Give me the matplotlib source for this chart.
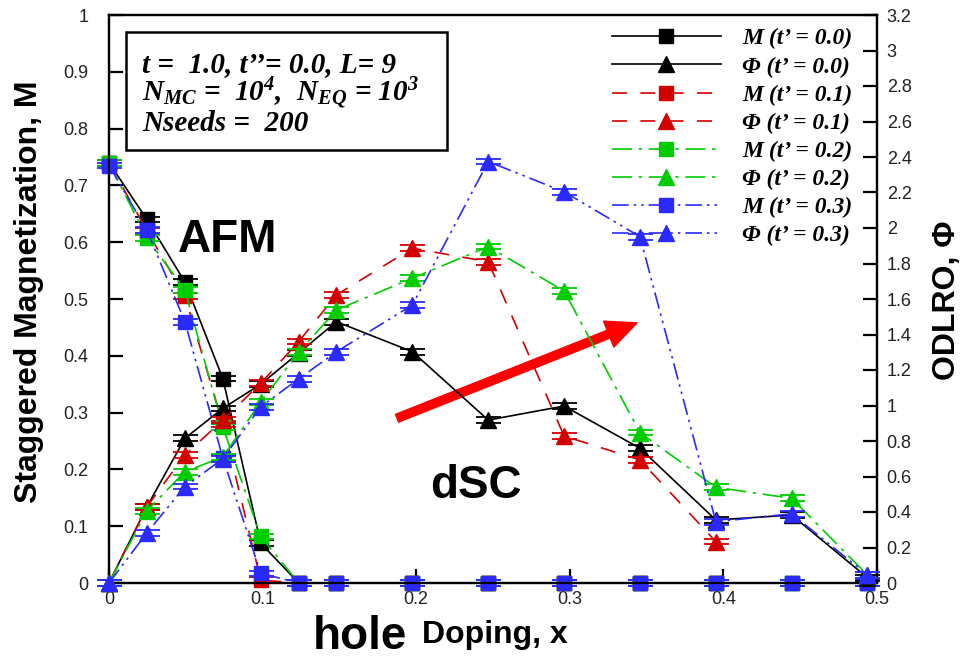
import matplotlib
matplotlib.use("Agg")
import matplotlib.pyplot as plt
from matplotlib.patches import Rectangle

plt.rcParams['mathtext.fontset'] = 'custom'
plt.rcParams['mathtext.rm'] = 'Liberation Serif:italic:bold'
plt.rcParams['mathtext.it'] = 'Liberation Serif:italic:bold'
plt.rcParams['mathtext.bf'] = 'Liberation Serif:italic:bold'

# ---------------- data ----------------
doping = [0.0, 0.0247, 0.0494, 0.0741, 0.0988, 0.1235, 0.1481, 0.1975,
          0.2469, 0.2963, 0.3457, 0.3951, 0.4444, 0.4938]
doping_red = doping[:12]

M_t00 = [0.74, 0.64, 0.53, 0.36, 0.07, 0, 0, 0, 0, 0, 0, 0, 0, 0]
M_t01 = [0.74, 0.62, 0.505, 0.28, 0.005, 0, 0, 0, 0, 0, 0, 0]
M_t02 = [0.74, 0.607, 0.516, 0.275, 0.082, 0, 0, 0, 0, 0, 0, 0, 0, 0]
M_t03 = [0.735, 0.621, 0.46, 0.22, 0.017, 0, 0, 0, 0, 0, 0, 0, 0, 0]

PHI_t00 = [0, 0.43, 0.815, 0.984, 1.12, 1.296, 1.472, 1.303, 0.918, 0.997,
           0.759, 0.355, 0.383, 0.03]
PHI_t01 = [0, 0.43, 0.721, 0.918, 1.125, 1.36, 1.623, 1.886, 1.81, 0.828,
           0.693, 0.233]
PHI_t02 = [0, 0.407, 0.627, 0.71, 1.02, 1.30, 1.538, 1.717, 1.895, 1.645,
           0.847, 0.539, 0.477, 0.045]
PHI_t03 = [0, 0.283, 0.543, 0.70, 0.993, 1.15, 1.303, 1.566, 2.374, 2.204,
           1.951, 0.345, 0.39, 0.045]

tprime_labels = ['0.0', '0.1', '0.2', '0.3']
x_ticks = [0, 0.1, 0.2, 0.3, 0.4, 0.5]
m_ticks = [0, 0.1, 0.2, 0.3, 0.4, 0.5, 0.6, 0.7, 0.8, 0.9, 1.0]
phi_ticks = [0, 0.2, 0.4, 0.6, 0.8, 1.0, 1.2, 1.4, 1.6, 1.8, 2.0, 2.2, 2.4,
             2.6, 2.8, 3.0, 3.2]

# ---------------- styles ----------------
colors = ['black', '#d40000', '#00cc00', '#2a2aff']
styles = ['-', (0, (9, 8)), (0, (12, 4, 2, 4)), (0, (10, 3, 1.5, 3, 1.5, 3))]

W, H = 963, 660
fig = plt.figure(figsize=(W / 100, H / 100), dpi=100)
L, R, B, T = 109, 877, 583, 15
ax = fig.add_axes([L / W, 1 - B / H, (R - L) / W, (B - T) / H])
ax2 = ax.twinx()

ax.set_xlim(0, 0.5)
ax.set_ylim(0, 1)
ax2.set_ylim(0, 3.2)

series = [
    (doping, M_t00, doping, PHI_t00),
    (doping_red, M_t01, doping_red, PHI_t01),
    (doping, M_t02, doping, PHI_t02),
    (doping, M_t03, doping, PHI_t03),
]

handles = []
for i, (xm, m, xp, p) in enumerate(series):
    c = colors[i]
    ls = styles[i]
    z = 3 + i
    ax.errorbar(xm, m, yerr=0.005, fmt='none', ecolor=c, elinewidth=1.0,
                capsize=9, capthick=1.3, zorder=z, clip_on=False)
    lm, = ax.plot(xm, m, color=c, linestyle=ls, linewidth=1.2, marker='s',
                  markersize=10, markerfacecolor=c, markeredgecolor=c,
                  zorder=z, clip_on=False,
                  label=f"M (t\u2019 = {tprime_labels[i]})")
    ax2.errorbar(xp, p, yerr=0.016, fmt='none', ecolor=c, elinewidth=1.0,
                 capsize=9, capthick=1.3, zorder=z, clip_on=False)
    lp, = ax2.plot(xp, p, color=c, linestyle=ls, linewidth=1.2, marker='^',
                   markersize=11, markerfacecolor=c, markeredgecolor=c,
                   zorder=z, clip_on=False,
                   label=f"\u03a6 (t\u2019 = {tprime_labels[i]})")
    handles += [lm, lp]

# ---------------- axes styling ----------------
tick_font = dict(family='Liberation Sans', size=13)
for a in (ax, ax2):
    for s in a.spines.values():
        s.set_linewidth(1.6)

ax.set_xticks(x_ticks)
ax.set_xticklabels([f"{v:g}" for v in x_ticks], fontdict=tick_font, color='#222222')
ax.set_yticks(m_ticks)
ax.set_yticklabels([f"{v:g}" for v in m_ticks], fontdict=tick_font, color='#222222')
ax2.set_yticks(phi_ticks)
ax2.set_yticklabels([f"{v:g}" for v in phi_ticks], fontdict=tick_font, color='#222222')

ax.tick_params(axis='x', direction='in', length=10, width=1.6, pad=6, top=False)
ax.tick_params(axis='y', direction='in', length=10, width=1.6, pad=15, right=False)
ax2.tick_params(axis='y', direction='in', length=10, width=1.6, pad=7)

# ---------------- labels ----------------
fig.text(29 / W, 1 - 292 / H, "Staggered Magnetization, M", rotation=90,
         ha='center', va='center', family='Liberation Sans', weight='bold', size=23)
fig.text(947 / W, 1 - 300 / H, "ODLRO, \u03a6", rotation=90,
         ha='center', va='center', family='Liberation Sans', weight='bold', size=23)
fig.text(313 / W, 1 - 649 / H, "hole", ha='left', va='baseline',
         family='Liberation Sans', weight='bold', size=33)
fig.text(422 / W, 1 - 643 / H, "Doping, x", ha='left', va='baseline',
         family='Liberation Sans', weight='bold', size=23)

ax.text((178 - L) / (R - L), (B - 252) / (B - T), "AFM", transform=ax.transAxes,
        ha='left', va='baseline', family='Liberation Sans', weight='bold', size=33)
ax.text((430 - L) / (R - L), (B - 498) / (B - T), "dSC", transform=ax.transAxes,
        ha='left', va='baseline', family='Liberation Sans', weight='bold', size=33)

# parameter box
ax.add_patch(Rectangle(((126 - L) / (R - L), (B - 150) / (B - T)),
                       (447 - 126) / (R - L), (150 - 32) / (B - T),
                       transform=ax.transAxes, fill=False, edgecolor='black',
                       linewidth=1.8, zorder=10))
box_font = dict(family='Liberation Serif', style='italic', weight='bold', size=21)
box_lines = ["t =  1.0, t\u2019\u2019= 0.0, L= 9",
             "N$_{MC}$ =  10$^{4}$,  N$_{EQ}$ = 10$^{3}$",
             "Nseeds =  200"]
for txt, yb in zip(box_lines, [72, 102, 131]):
    ax.text((142 - L) / (R - L), (B - yb) / (B - T), txt, transform=ax.transAxes,
            ha='left', va='baseline', zorder=11, **box_font)

# arrow
ax.annotate('', xy=(0.3438, 0.458), xytext=(0.1875, 0.29),
            arrowprops=dict(width=6, headwidth=20, headlength=22,
                            color='#ff0000', shrink=0), zorder=12)

# legend
leg = ax2.legend(handles=handles, loc='upper left',
                 bbox_to_anchor=(612 / W, 1 - 28 / H), bbox_transform=fig.transFigure,
                 frameon=False, borderpad=0, borderaxespad=0,
                 handlelength=4.6, handletextpad=0.9, labelspacing=0.28,
                 numpoints=1, markerscale=1.05,
                 prop=dict(family='Liberation Serif', style='italic', weight='bold', size=17))
leg.set_zorder(20)

fig.savefig("out.png", dpi=100)
